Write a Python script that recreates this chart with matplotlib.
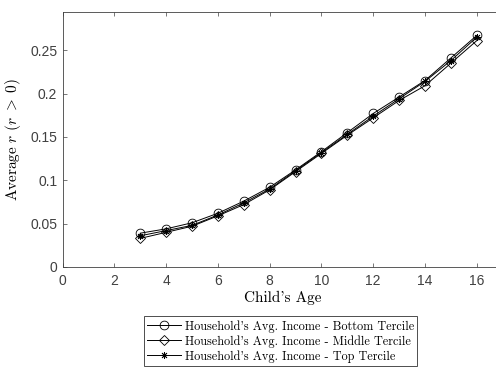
import matplotlib as mpl
mpl.use('Agg')
from matplotlib import pyplot as plt

#data
age = [3, 4, 5, 6, 7, 8, 9, 10, 11, 12, 13, 14, 15, 16]
bottom = [0.039, 0.044, 0.051, 0.062, 0.076, 0.092, 0.112, 0.133, 0.155, 0.177, 0.196, 0.215, 0.241, 0.267]
middle = [0.033, 0.040, 0.047, 0.059, 0.072, 0.089, 0.110, 0.131, 0.152, 0.172, 0.192, 0.209, 0.235, 0.261]
top = [0.036, 0.042, 0.048, 0.060, 0.074, 0.090, 0.111, 0.132, 0.153, 0.174, 0.194, 0.214, 0.238, 0.265]
labels = ["Household's Avg. Income - Bottom Tercile",
          "Household's Avg. Income - Middle Tercile",
          "Household's Avg. Income - Top Tercile"]
xticks = [0, 2, 4, 6, 8, 10, 12, 14, 16]
yticks = [0, 0.05, 0.1, 0.15, 0.2, 0.25]

plt.rcParams['mathtext.fontset'] = 'cm'
plt.rcParams['axes.unicode_minus'] = False

axcol = '0.25'
fig = plt.figure(figsize=(4.96, 3.73), dpi=100)
ax = fig.add_axes([0.1264, 0.2842, 0.887, 0.6836])

#series
ax.plot(age, bottom, color='k', lw=0.7, marker='o', ms=6.3, mfc='none', mec='k', mew=0.6, label=labels[0])
ax.plot(age, middle, color='k', lw=0.7, marker='D', ms=4.8, mfc='none', mec='k', mew=0.6, label=labels[1])
ax.plot(age, top, color='k', lw=0.7, marker=(8, 2, 0), ms=5, mec='k', mew=0.6, label=labels[2])

ax.set_xlim(0, 17)
ax.set_ylim(0, 0.294)
ax.set_xticks(xticks)
ax.set_xticklabels([str(t) for t in xticks])
ax.set_yticks(yticks)
ax.set_yticklabels(['0', '0.05', '0.1', '0.15', '0.2', '0.25'])
ax.tick_params(direction='in', length=3, width=0.5, colors=axcol, labelsize=10,
               top=True, right=True)
ax.tick_params(axis='x', pad=5)
ax.tick_params(axis='y', pad=4)
for lab in ax.get_xticklabels() + ax.get_yticklabels():
    lab.set_family('Liberation Sans')
for s in ax.spines.values():
    s.set_color(axcol)
    s.set_linewidth(0.6)

ax.set_xlabel("Child's Age", family='cmr10', fontsize=11, labelpad=2)
ax.set_ylabel(r'$\mathrm{Average}\;r\;\,(r\;>\;0)$', fontsize=11, labelpad=5)

leg = fig.legend(loc='upper center', bbox_to_anchor=(0.5655, 0.152), ncol=1,
                 prop={'family': 'cmr10', 'size': 8.8}, fancybox=False, framealpha=1,
                 edgecolor='0.3', handlelength=2.8, handletextpad=0.25, borderpad=0.3,
                 labelspacing=0.2, borderaxespad=0)
leg.get_frame().set_linewidth(0.7)

plt.savefig('out.png', dpi=100)
